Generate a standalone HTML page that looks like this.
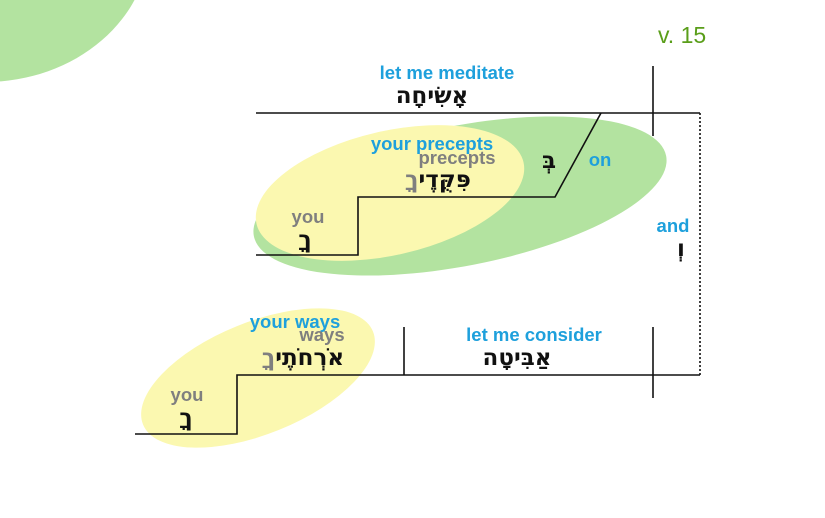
<!DOCTYPE html>
<html><head><meta charset="utf-8"><style>
html,body{margin:0;padding:0;background:#fff;}
svg{display:block;}
.en{font-family:"Liberation Sans",sans-serif;font-weight:bold;font-size:18.5px;}
.b{fill:#1ea0dc;}
.g{fill:#7f7f7f;}
.he{font-family:"DejaVu Sans",sans-serif;font-weight:bold;font-size:23px;fill:#111;}
</style></head><body>
<svg width="825" height="518" viewBox="0 0 825 518" xmlns="http://www.w3.org/2000/svg">
<ellipse cx="-15" cy="-60" rx="165" ry="142" fill="#b3e3a0"/>
<text x="658" y="43" font-family="Liberation Sans,sans-serif" font-size="23" fill="#5a9e1a">v. 15</text>
<ellipse cx="460" cy="196" rx="210" ry="70" transform="rotate(-11 460 196)" fill="#b3e3a0"/>
<ellipse cx="390" cy="193" rx="137" ry="62" transform="rotate(-13 390 193)" fill="#fbf8b0"/>
<ellipse cx="258" cy="378" rx="124" ry="56" transform="rotate(-22 258 378)" fill="#fbf8b0"/>
<g stroke="#111" stroke-width="1.6" fill="none">
<polyline points="256,113 700,113"/>
<line x1="653" y1="66" x2="653" y2="136"/>
<polyline points="256,255 358,255 358,197 555,197 601,113"/>
<polyline points="135,434 237,434 237,375 700,375"/>
<line x1="404" y1="327" x2="404" y2="375"/>
<line x1="653" y1="327" x2="653" y2="398"/>
<line x1="700" y1="113" x2="700" y2="375" stroke-dasharray="2,2"/>
</g>
<text class="en b" x="447" y="79" text-anchor="middle">let me meditate</text>
<text class="he" x="432" y="103" text-anchor="middle">אָשִׂיחָה</text>
<text class="en b" x="432" y="150" text-anchor="middle">your precepts</text>
<text class="en g" x="457" y="164" text-anchor="middle">precepts</text>
<text class="he" x="438" y="187" text-anchor="middle" direction="rtl">פִּקֻּדֶי<tspan fill="#7f7f7f">ךָ</tspan></text>
<text class="he" x="549" y="168" text-anchor="middle">בְּ</text>
<text class="en b" x="600" y="166" text-anchor="middle">on</text>
<text class="en g" x="308" y="223" text-anchor="middle">you</text>
<text class="he" x="305" y="247" text-anchor="middle">ךָ</text>
<text class="en b" x="673" y="232" text-anchor="middle">and</text>
<text class="he" x="681" y="256" text-anchor="middle">וְ</text>
<text class="en b" x="295" y="328" text-anchor="middle">your ways</text>
<text class="en g" x="322" y="341" text-anchor="middle">ways</text>
<text class="he" x="303" y="365" text-anchor="middle" direction="rtl">אֹרְחֹתֶי<tspan fill="#7f7f7f">ךָ</tspan></text>
<text class="en b" x="534" y="341" text-anchor="middle">let me consider</text>
<text class="he" x="517" y="365" text-anchor="middle">אַבִּיטָה</text>
<text class="en g" x="187" y="401" text-anchor="middle">you</text>
<text class="he" x="186" y="425" text-anchor="middle">ךָ</text>
</svg>
</body></html>
